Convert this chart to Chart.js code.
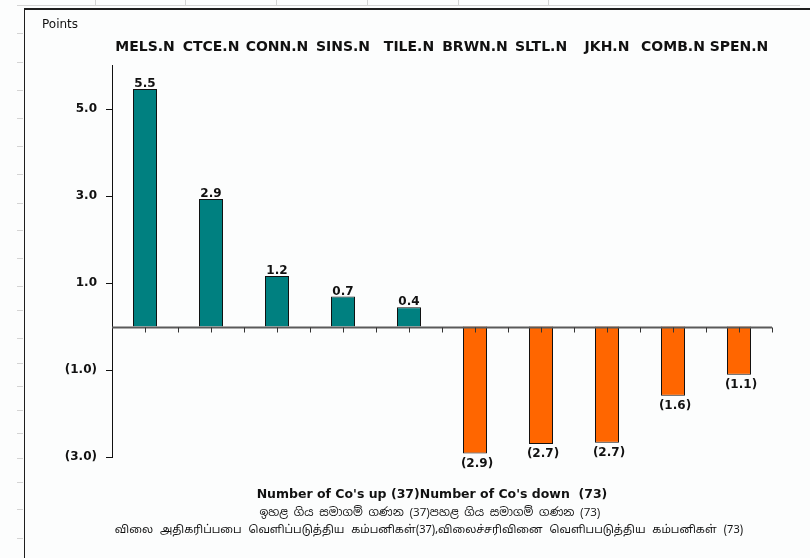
<!DOCTYPE html>
<html>
<head>
<meta charset="utf-8">
<script src="https://cdn.jsdelivr.net/npm/chart.js@4.4.1/dist/chart.umd.min.js"></script>
<style>
html,body{margin:0;padding:0;background:#fff;}
#wrap{position:relative;width:810px;height:558px;overflow:hidden;background:#fcfdfd;}
#c{position:absolute;left:0;top:0;}
.deco{position:absolute;background:#d4d4d4;}
.frame{position:absolute;background:#1e1e1e;}
.txt{position:absolute;text-align:center;color:#111;white-space:nowrap;}
#pts{position:absolute;left:42px;top:17px;font:12px "DejaVu Sans",sans-serif;color:#111;}
</style>
</head>
<body>
<div id="wrap">
  <div id="decoLayer"></div>
  <div class="frame" style="left:24px;top:8px;width:786px;height:1.5px;"></div>
  <div class="frame" style="left:23.5px;top:8px;width:1.5px;height:550px;"></div>
  <canvas id="c" width="810" height="558"></canvas>
  <div id="pts">Points</div>
  <div class="txt" style="left:-68px;top:486px;width:1000px;font:bold 12.5px 'DejaVu Sans',sans-serif;">Number of Co's up (37)Number of Co's down&nbsp; (73)</div>
  <div class="txt" style="left:-70px;top:504px;width:1000px;font:11.5px 'Noto Sans Sinhala','Noto Sans','DejaVu Sans',sans-serif;">ඉහළ ගිය සමාගම් ගණන (37)පහළ ගිය සමාගම් ගණන (73)</div>
  <div class="txt" style="left:-71px;top:523px;width:1000px;font:11px 'Noto Sans Tamil','Noto Sans','DejaVu Sans',sans-serif;word-spacing:4px;">விலை அதிகரிப்பபை வெளிப்படுத்திய கம்பனிகள்(37),விலைச்சரிவினை வெளிபபடுத்திய கம்பனிகள் (73)</div>
</div>
<script>
// ---- data ----
const categories = ['MELS.N','CTCE.N','CONN.N','SINS.N','TILE.N','BRWN.N','SLTL.N','JKH.N','COMB.N','SPEN.N'];
const changes = [5.46, 2.93, 1.16, 0.69, 0.44, -2.92, -2.70, -2.67, -1.59, -1.11];
const yTickValues = [-3, -1, 1, 3, 5];
const yMin = -3;
const yMax = 6;

// ---- styling ----
const upColor = '#008080';
const downColor = '#FF6600';
const boldFont = "'DejaVu Sans', sans-serif";

// decoration (spreadsheet background)
(function(){
  const layer = document.getElementById('decoLayer');
  const add = (l,t,w,h)=>{const d=document.createElement('div');d.className='deco';d.style.cssText=`left:${l}px;top:${t}px;width:${w}px;height:${h}px;`;layer.appendChild(d);};
  add(17,5,783,1);
  [95,185,276,367,458,548].forEach(x=>add(x,0,1,5));
  [33,62,90,118,146,174,203,230,258,286,310,338,363,386,410,433,458,482,509,538].forEach(y=>add(17,y,6,1));
})();

function fmt(v){
  const s = Math.abs(v).toFixed(1);
  return v < 0 ? '(' + s + ')' : s;
}

const barLabels = {
  id: 'barLabels',
  afterDatasetsDraw(chart){
    const ctx = chart.ctx;
    const meta = chart.getDatasetMeta(0);
    ctx.save();
    ctx.font = "bold 12px " + boldFont;
    ctx.fillStyle = '#111';
    ctx.textAlign = 'center';
    meta.data.forEach((bar, i) => {
      const v = changes[i];
      if (v >= 0) {
        ctx.textBaseline = 'bottom';
        ctx.fillText(fmt(v), bar.x, bar.y + 1);
      } else {
        ctx.textBaseline = 'top';
        ctx.fillText(fmt(v), bar.x + 2, bar.y + 4);
      }
    });
    ctx.restore();
  }
};

const zeroAxis = {
  id: 'zeroAxis',
  afterDatasetsDraw(chart){
    const ctx = chart.ctx;
    const xs = chart.scales.x, ys = chart.scales.y;
    const y0 = Math.round(ys.getPixelForValue(0)) + 0.5;
    const ca = chart.chartArea;
    ctx.save();
    ctx.strokeStyle = '#5a5a5a';
    ctx.lineWidth = 2;
    ctx.beginPath();
    ctx.moveTo(ca.left, y0);
    ctx.lineTo(ca.right, y0);
    ctx.stroke();
    ctx.strokeStyle = '#333';
    ctx.lineWidth = 1;
    ctx.beginPath();
    const half = (xs.getPixelForValue(1) - xs.getPixelForValue(0)) / 2;
    for (let i = 0; i < categories.length; i++) {
      const xc = Math.round(xs.getPixelForValue(i)) + 0.5;
      ctx.moveTo(xc, y0); ctx.lineTo(xc, y0 + 5);
      const xb = Math.round(xs.getPixelForValue(i) + half) + 0.5;
      ctx.moveTo(xb, y0); ctx.lineTo(xb, y0 + 5);
    }
    ctx.stroke();
    ctx.restore();
  }
};

new Chart(document.getElementById('c'), {
  type: 'bar',
  data: {
    labels: categories,
    datasets: [{
      data: changes,
      backgroundColor: changes.map(v => v >= 0 ? upColor : downColor),
      borderColor: '#111',
      borderWidth: 1,
      borderSkipped: 'start',
      barPercentage: 0.364,
      categoryPercentage: 1
    }]
  },
  options: {
    responsive: false,
    animation: false,
    devicePixelRatio: 1,
    layout: { padding: { left: 0, right: 38, top: 20, bottom: 101 } },
    plugins: { legend: { display: false }, tooltip: { enabled: false } },
    scales: {
      x: {
        position: 'top',
        offset: true,
        grid: { display: false, drawTicks: false },
        border: { display: false },
        ticks: { color: '#111', font: { family: boldFont, size: 14, weight: 'bold' }, padding: 10, maxRotation: 0, autoSkip: false },
        afterFit(s){ s.height = 45.5; }
      },
      y: {
        min: yMin,
        max: yMax,
        afterBuildTicks(s){ s.ticks = yTickValues.map(v => ({ value: v })); },
        grid: { drawOnChartArea: false, drawTicks: true, tickLength: 6, color: '#111' },
        border: { display: true, color: '#111', width: 1 },
        ticks: { color: '#111', font: { family: boldFont, size: 12, weight: 'bold' }, padding: 9, callback: v => fmt(v) },
        afterFit(s){ s.width = 112; }
      }
    }
  },
  plugins: [zeroAxis, barLabels]
});
</script>
</body>
</html>
